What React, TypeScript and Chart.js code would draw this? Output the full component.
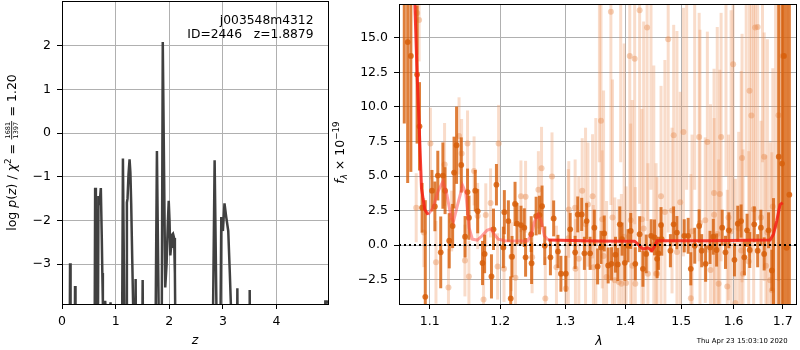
import React, { useEffect, useRef } from 'react';
import { Chart, registerables } from 'chart.js';

Chart.register(...registerables);

// ---------------- Left panel: log p(z) ----------------
const zGrid = [
  0.0, 0.14, 0.15, 0.16, 0.235, 0.243, 0.252,
  0.605, 0.618, 0.632, 0.665, 0.68, 0.7, 0.724, 0.742, 0.752, 0.762, 0.78, 0.805, 0.83, 0.885, 0.905, 0.925,
  1.115, 1.136, 1.175, 1.195, 1.21, 1.222, 1.24, 1.26, 1.275, 1.29, 1.31, 1.335, 1.36, 1.373, 1.386,
  1.49, 1.504, 1.518,
  1.735, 1.77, 1.82, 1.855, 1.879, 1.925, 1.95, 1.975, 1.99, 2.005, 2.02, 2.035, 2.05, 2.07, 2.09, 2.105, 2.125,
  2.8, 2.846, 2.9, 2.945, 2.97, 3.0, 3.03, 3.06, 3.1, 3.13, 3.165, 3.18,
  3.258, 3.27, 3.282, 3.488, 3.5, 3.512,
  4.89, 4.91, 4.94, 4.96,
];
const logPz = [
  -6, -6, -2.98, -6, -6, -3.5, -6,
  -6, -1.25, -6, -6, -1.44, -1.65, -1.26, -2.4, -3.2, -3.9, -4.4, -3.84, -4.4, -4.4, -3.87, -4.6,
  -6, -0.58, -6, -6, -1.59, -1.5, -0.95, -0.6, -0.9, -1.6, -2.9, -4.5, -6, -3.34, -6,
  -6, -3.36, -6,
  -6, -0.41, -6, -6, 2.08, -3.53, -3.0, -2.0, -1.55, -2.0, -2.8, -2.6, -2.33, -2.3, -2.4, -3.2, -6,
  -6, -0.62, -6, -6, -1.92, -2.24, -1.61, -1.9, -2.24, -3.23, -4.5, -6,
  -6, -3.55, -6, -6, -3.59, -6,
  -6, -3.85, -3.85, -3.9,
];
const zRange = [0, 4.96];
const logPRange = [-3.91, 3.02];
const zTicks = [0, 1, 2, 3, 4];
const logPTicks = [-3, -2, -1, 0, 1, 2];

// ---------------- Right panel: spectrum ----------------
const lamModel = [
  1.07, 1.08, 1.083, 1.0858, 1.0889, 1.0933, 1.0977, 1.1045, 1.1113, 1.118, 1.1235, 1.1295, 1.1326,
  1.1385, 1.1455, 1.15, 1.1547, 1.1594, 1.1663, 1.1734, 1.1805, 1.1862, 1.191, 1.197, 1.207, 1.241,
  1.247, 1.252, 1.257, 1.262, 1.267, 1.273, 1.35, 1.416, 1.422, 1.4307, 1.4395, 1.4465, 1.4513, 1.4559,
  1.55, 1.6737, 1.6806, 1.6874, 1.6942, 1.6998,
];
const fModel = [
  25, 17.5, 12.36, 8.6, 4.1, 2.58, 2.2, 2.7, 3.9, 4.6, 3.65, 1.98, 1.7,
  2.93, 4.3, 3.77, 1.26, 0.43, 0.36, 0.67, 1.07, 1.17, 0.79, 0.43, 0.31, 0.3,
  0.79, 1.74, 2.22, 1.74, 0.67, 0.36, 0.3, 0.28, 0.07, -0.29, -0.2, -0.4, -0.1, 0.31,
  0.32, 0.36, 0.79, 1.74, 2.93, 3.07,
];

const lamDark = [
  1.066, 1.0705, 1.0747, 1.083, 1.0862, 1.0897, 1.094, 1.103, 1.107, 1.111, 1.115, 1.118, 1.121,
  1.1268, 1.1315, 1.1335, 1.137, 1.1436, 1.149, 1.1525, 1.1545, 1.1635, 1.167, 1.174, 1.177, 1.187,
  1.19, 1.1943, 1.2045, 1.206, 1.212, 1.2155, 1.2175, 1.222, 1.225, 1.231, 1.236, 1.238, 1.2466,
  1.2472, 1.2542, 1.2594, 1.2634, 1.2676, 1.2765, 1.2816, 1.2884, 1.2931, 1.301, 1.308, 1.316,
  1.3202, 1.3267, 1.3311, 1.3348, 1.3405, 1.3475, 1.353, 1.3586, 1.3641, 1.3707, 1.3763, 1.3831,
  1.387, 1.3905, 1.3944, 1.3991, 1.4047, 1.4093, 1.4173, 1.4249, 1.4307, 1.4365, 1.4453, 1.4513,
  1.456, 1.4584, 1.463, 1.4643, 1.48, 1.4859, 1.4919, 1.5055, 1.5128, 1.5177, 1.5251, 1.5334,
  1.5382, 1.5457, 1.5541, 1.5604, 1.5668, 1.5776, 1.584, 1.5906, 1.6016, 1.6082, 1.6148, 1.6213,
  1.6267, 1.6321, 1.6412, 1.6481, 1.6547, 1.6614, 1.6704, 1.6772, 1.6806, 1.6915, 1.6984, 1.7025,
  1.7081, 1.7138,
];
const fDark = [
  20.0, 14.7, 13.7, 12.35, 8.6, 2.7, -3.75, 3.94, 2.8, 5.03, -0.53, 5.03, 3.94,
  0.31, 1.38, 5.25, 7.23, 5.8, 0.6, 3.84, 1.98, 3.94, 2.45, -1.3, -0.64, -2.27,
  1.14, 4.37, -0.17, 2.38, 1.74, -3.87, -0.84, 2.98, 1.55, 1.45, 1.26, -0.89, 0.79,
  -1.32, 2.1, 2.17, 2.81, -0.05, -0.89, 1.93, -0.46, -2.08, -2.08, 1.14, -0.53,
  2.22, 2.22, -0.6, 1.74, -0.6, 1.26, -1.55, -0.17, 0.84, -1.48, -1.36, -0.7,
  -1.4, 1.5, 0.43, -1.29, -0.05, 1.02, -1.36, 0.79, -1.72, -0.64, 0.67, 0.55,
  -1.0, -0.6, 1.45, 0.43, -0.41, 1.5, 0.9, 0.67, 0.67, -1.72, -0.05, 1.38,
  -0.41, -1.36, -0.17, 0.6, -0.36, 1.26, -0.53, 1.07, -1.07, 1.55, 1.74, -0.89,
  1.07, -0.36, 1.5, -0.41, 1.26, -0.64, 1.07, -1.84, -4.6, 6.4, 5.9, 13.7,
  -0.2, 3.65,
];
const eDark = [
  11.2, 10.2, 8.4, 5.0, 3.2, 1.8, 7.0, 1.5, 1.8, 1.8, 2.6, 2.4, 1.7,
  2.0, 1.6, 2.6, 2.8, 2.0, 1.5, 1.7, 1.6, 1.5, 1.6, 1.6, 1.4, 1.6,
  1.5, 1.5, 1.5, 1.6, 1.5, 1.6, 1.5, 1.6, 1.5, 1.4, 1.4, 1.4, 1.3,
  1.5, 1.4, 1.4, 1.5, 1.4, 1.3, 1.3, 1.2, 1.3, 1.3, 1.2, 1.2,
  1.3, 1.2, 1.2, 1.3, 1.2, 1.3, 1.3, 1.2, 1.3, 1.3, 1.2, 1.3,
  1.2, 1.3, 1.2, 1.3, 1.2, 1.3, 1.2, 1.3, 1.3, 1.4, 1.2, 1.3,
  1.4, 1.2, 1.3, 1.2, 1.2, 1.3, 1.2, 1.2, 1.3, 1.2, 1.3, 1.2,
  1.2, 1.3, 1.2, 1.3, 1.2, 1.3, 1.2, 1.3, 1.2, 1.3, 1.2, 1.3,
  1.2, 1.3, 1.3, 1.2, 1.3, 1.2, 1.3, 1.5, 8.0, 12, 14, 18,
  18, 20,
];

const lamLight = [
  1.083, 1.0857, 1.0818, 1.092, 1.1009, 1.1085, 1.1203, 1.1257, 1.1302, 1.1405, 1.1441, 1.1488,
  1.1525, 1.1544, 1.1618, 1.167, 1.1755, 1.1787, 1.1857, 1.196, 1.1975, 1.2055, 1.2165, 1.2226,
  1.2309, 1.238, 1.248, 1.2577, 1.2626, 1.2685, 1.279, 1.286, 1.301, 1.3058, 1.316, 1.3165, 1.3275,
  1.337, 1.3446, 1.346, 1.3586, 1.3607, 1.368, 1.3753, 1.382, 1.3887, 1.3932, 1.4013, 1.4077,
  1.4093, 1.4162, 1.4173, 1.4249, 1.4289, 1.4381, 1.4395, 1.4541, 1.4559, 1.463, 1.476, 1.486,
  1.498, 1.504, 1.5178, 1.5334, 1.549, 1.5618, 1.5707, 1.573, 1.5755, 1.599, 1.6035, 1.6167,
  1.6186, 1.6316, 1.6354, 1.6431, 1.6481, 1.6614, 1.6737, 1.6772, 1.6792, 1.6909, 1.6998,
  1.356, 1.392, 1.445, 1.51, 1.525, 1.585, 1.625, 1.658,
  1.483, 1.52, 1.545, 1.562, 1.5875, 1.59, 1.61, 1.63, 1.655, 1.665,
  1.305, 1.322, 1.333, 1.35, 1.363, 1.378, 1.398, 1.412, 1.432, 1.45,
  1.47, 1.492, 1.535, 1.555, 1.568, 1.595, 1.615, 1.64, 1.668, 1.685,
];
const fLight = [
  16.8, 16.3, 2.7, 0.9, 7.35, -1.25, 5.84, -3.08, 1.74, 7.9, 6.63, -1.12,
  7.35, -2.27, 5.37, 2.1, -3.94, 2.17, 3.05, -1.55, 7.35, -1.72, -0.84, -2.36,
  3.53, 3.5, -0.89, 4.0, 5.56, -3.87, 4.96, -1.6, -3.15, 2.58, 2.7, -1.72, 3.94,
  2.93, 3.53, -1.6, 9.0, 1.86, -2.31, 16.9, -2.55, -2.68, -2.8, -2.75, 13.7,
  1.8, 13.5, -2.8, 17.0, 1.86, 15.75, -2.07, -2.07, -2.08, 3.53, 14.9, 7.95,
  3.1, 8.18, -3.86, 7.82, 7.46, 3.77, -2.8, 3.7, 7.82, 13.1, -4.2, 6.3,
  -2.07, 11.17, 9.38, 15.75, 15.8, 6.4, -2.55, -3.27, 2.8, 9.4, 13.7,
  22, 24, 20, 21, 19, 22, 20, 24,
  2.5, 1.0, 1.8, 2.2, -3.0, 2.0, 1.2, -1.2, 2.0, -1.5,
  0.5, -1.0, 1.5, 0.2, -0.8, 2.0, 0.6, -1.5, 1.2, 0.0,
  2.4, -0.5, 1.6, -1.8, 0.8, 1.0, -0.4, 2.6, 0.9, 1.4,
];
const eLight = [
  3.0, 3.0, 2.5, 2.5, 2.6, 3.0, 3.0, 2.8, 2.2, 2.8, 2.5, 2.6,
  2.4, 2.6, 2.5, 2.4, 2.6, 2.3, 2.5, 2.4, 2.8, 2.4, 2.5, 2.5,
  2.6, 2.6, 2.6, 2.8, 3.0, 3.0, 3.2, 3.0, 3.5, 3.5, 3.5, 3.6, 3.8,
  4.5, 4.5, 4.5, 9.0, 5.0, 5.5, 14, 6, 6, 6.5, 7, 12,
  7, 12, 7, 14, 8, 14, 8, 8, 7, 8, 14, 8,
  8, 9, 9, 9, 8, 9, 9, 9, 9, 12, 9, 9,
  9, 12, 10, 14, 14, 9, 10, 10, 10, 12, 14,
  16, 18, 16, 17, 15, 17, 15, 18,
  6, 7, 6, 7, 7, 6, 7, 8, 7, 8,
  5, 6, 7, 9, 12, 10, 14, 12, 15, 13,
  11, 16, 14, 12, 15, 16, 13, 15, 14, 16,
];

const lamRange = [1.0591, 1.7279];
const fluxRange = [-4.27, 17.46];
const lamTicks = [1.1, 1.2, 1.3, 1.4, 1.5, 1.6, 1.7];
const fluxTicks = [-2.5, 0, 2.5, 5, 7.5, 10, 12.5, 15];
const zeroLevel = 0;

const objName = 'j003548m4312';
const objInfo = 'ID=2446   z=1.8879';
const stamp = 'Thu Apr 23 15:03:10 2020';

// ---------------- helpers ----------------
const FONT = "'DejaVu Sans', 'Liberation Sans', sans-serif";
const TICK = 12.5;
const MINUS = '\u2212';
const fmt = (v: number, d: number) => (v < 0 ? MINUS : '') + Math.abs(v).toFixed(d);

type Run = any;

function drawRuns(ctx: CanvasRenderingContext2D, runs: Run[], x: number, y: number, rotate: boolean) {
  ctx.save();
  ctx.translate(x, y);
  if (rotate) ctx.rotate(-Math.PI / 2);
  ctx.textBaseline = 'alphabetic';
  ctx.textAlign = 'left';
  ctx.fillStyle = '#000';
  const widths = runs.map((r: Run) => {
    if (r.num) {
      ctx.font = `${r.size}px ${FONT}`;
      return Math.max(ctx.measureText(r.num).width, ctx.measureText(r.den).width) + 3;
    }
    ctx.font = `${r.italic ? 'italic ' : ''}${r.size}px ${FONT}`;
    return ctx.measureText(r.t).width;
  });
  const total = widths.reduce((a: number, b: number) => a + b, 0);
  let cx = -total / 2;
  runs.forEach((r: Run, i: number) => {
    const w = widths[i];
    if (r.num) {
      ctx.font = `${r.size}px ${FONT}`;
      ctx.textAlign = 'center';
      const axis = 4.3;
      ctx.fillText(r.num, cx + w / 2, -axis - 1.6);
      ctx.fillText(r.den, cx + w / 2, -axis + 1.6 + r.size * 0.73);
      ctx.fillRect(cx + 0.5, -axis - 0.4, w - 1, 0.8);
      ctx.textAlign = 'left';
    } else {
      ctx.font = `${r.italic ? 'italic ' : ''}${r.size}px ${FONT}`;
      ctx.fillText(r.t, cx, -(r.dy || 0));
    }
    cx += w;
  });
  ctx.restore();
}

const framePlugin = {
  id: 'frame',
  afterDraw(chart: any) {
    const { ctx, chartArea: a } = chart;
    ctx.save();
    ctx.strokeStyle = '#000';
    ctx.lineWidth = 1;
    ctx.strokeRect(a.left + 0.5, a.top + 0.5, a.right - a.left, a.bottom - a.top);
    ctx.restore();
  },
};

const errorBarPlugin = {
  id: 'errorBars',
  beforeDatasetDraw(chart: any, args: any) {
    const ds = chart.data.datasets[args.index];
    if (!ds.errors) return;
    const { ctx, chartArea: a } = chart;
    const ys = chart.scales.y;
    ctx.save();
    ctx.beginPath();
    ctx.rect(a.left, a.top, a.right - a.left, a.bottom - a.top);
    ctx.clip();
    ctx.strokeStyle = ds.errorColor;
    ctx.lineWidth = ds.errorWidth;
    args.meta.data.forEach((pt: any, i: number) => {
      const d = ds.data[i];
      const e = ds.errors[i];
      ctx.beginPath();
      ctx.moveTo(pt.x, ys.getPixelForValue(d.y - e));
      ctx.lineTo(pt.x, ys.getPixelForValue(d.y + e));
      ctx.stroke();
    });
    ctx.restore();
  },
};

const tickFont = { family: FONT, size: TICK };
const gridOpts = { color: '#b0b0b0', lineWidth: 1, tickColor: '#000', tickLength: 5, drawTicks: true };

const fitX = (s: any) => { s.height = 46; s.paddingLeft = 0; s.paddingRight = 0; s.paddingTop = 0; s.paddingBottom = 0; };
const fitY = (w: number) => (s: any) => { s.width = w; s.paddingTop = 0; s.paddingBottom = 0; s.paddingLeft = 0; s.paddingRight = 0; };

function LeftPanel() {
  const ref = useRef<HTMLCanvasElement>(null);
  useEffect(() => {
    const textPlugin = {
      id: 'leftText',
      afterDraw(chart: any) {
        const ctx = chart.ctx;
        ctx.save();
        ctx.fillStyle = '#000';
        ctx.font = `12.3px ${FONT}`;
        ctx.textAlign = 'right';
        ctx.textBaseline = 'alphabetic';
        ctx.fillText(objName, 313.5, 24);
        ctx.fillText(objInfo, 313.5, 38.3);
        ctx.restore();
        drawRuns(ctx, [
          { t: 'log ', size: 12.5 },
          { t: 'p', size: 12.5, italic: true },
          { t: '(', size: 12.5 },
          { t: 'z', size: 12.5, italic: true },
          { t: ') / ', size: 12.5 },
          { t: 'χ', size: 12.5, italic: true },
          { t: '2', size: 8.75, dy: 5 },
          { t: ' = ', size: 12.5 },
          { num: '1681', den: '1397', size: 6.5 },
          { t: ' = 1.20', size: 12.5 },
        ], 16, 152.5, true);
        drawRuns(ctx, [{ t: 'z', size: 12.5, italic: true }], 195, 343.5, false);
      },
    };
    const chart = new Chart(ref.current as HTMLCanvasElement, {
      type: 'scatter',
      data: {
        datasets: [
          {
            data: zGrid.map((z, i) => ({ x: z, y: logPz[i] })),
            showLine: true,
            borderColor: '#404040',
            borderWidth: 2.5,
            pointRadius: 0,
            tension: 0,
            clip: 0,
          } as any,
        ],
      },
      options: {
        animation: false,
        responsive: false,
        devicePixelRatio: 1,
        events: [],
        layout: { padding: { left: 0, top: 1, right: 12, bottom: 0 } },
        plugins: { legend: { display: false }, tooltip: { enabled: false } },
        scales: {
          x: {
            type: 'linear',
            min: zRange[0],
            max: zRange[1],
            bounds: 'data',
            afterBuildTicks: (s: any) => { s.ticks = zTicks.map((v) => ({ value: v })); },
            afterFit: fitX,
            ticks: { font: tickFont, color: '#000', padding: 5, maxRotation: 0, autoSkip: false, callback: (v: any) => fmt(Number(v), 0) },
            grid: gridOpts,
            border: { display: false },
          },
          y: {
            type: 'linear',
            min: logPRange[0],
            max: logPRange[1],
            bounds: 'data',
            afterBuildTicks: (s: any) => { s.ticks = logPTicks.map((v) => ({ value: v })); },
            afterFit: fitY(62),
            ticks: { font: tickFont, color: '#000', padding: 6, autoSkip: false, callback: (v: any) => fmt(Number(v), 0) },
            grid: gridOpts,
            border: { display: false },
          },
        } as any,
      },
      plugins: [framePlugin, textPlugin],
    });
    return () => chart.destroy();
  }, []);
  return (
    <canvas ref={ref} width={340} height={350}
      style={{ position: 'absolute', left: 0, top: 0, width: 340, height: 350 }} />
  );
}

function RightPanel() {
  const ref = useRef<HTMLCanvasElement>(null);
  useEffect(() => {
    const textPlugin = {
      id: 'rightText',
      afterDraw(chart: any) {
        const ctx = chart.ctx;
        drawRuns(ctx, [
          { t: 'f', size: 12.5, italic: true },
          { t: 'λ', size: 8.75, italic: true, dy: -3 },
          { t: ' × 10', size: 12.5 },
          { t: MINUS + '19', size: 8.75, dy: 5 },
        ], 14, 152.5, true);
        drawRuns(ctx, [{ t: 'λ', size: 12.5, italic: true }], 269, 344.5, false);
        ctx.save();
        ctx.fillStyle = '#000';
        ctx.font = `6.9px ${FONT}`;
        ctx.textAlign = 'left';
        ctx.textBaseline = 'alphabetic';
        ctx.fillText(stamp, 366.7, 342.7);
        ctx.restore();
      },
    };
    const pink = 'rgba(255,70,70,0.5)';
    const red = 'rgba(245,30,20,0.85)';
    const chart = new Chart(ref.current as HTMLCanvasElement, {
      type: 'scatter',
      data: {
        datasets: [
          {
            data: lamLight.map((x, i) => ({ x, y: fLight[i] })),
            errors: eLight,
            errorColor: 'rgba(238,150,95,0.33)',
            errorWidth: 3,
            pointRadius: 3,
            pointBackgroundColor: 'rgba(232,140,80,0.42)',
            pointBorderWidth: 0,
            showLine: false,
            clip: 0,
            order: 4,
          } as any,
          {
            data: lamDark.map((x, i) => ({ x, y: fDark[i] })),
            errors: eDark,
            errorColor: 'rgba(215,95,10,0.8)',
            errorWidth: 3,
            pointRadius: 2.9,
            pointBackgroundColor: 'rgba(215,95,10,0.85)',
            pointBorderWidth: 0,
            showLine: false,
            clip: 0,
            order: 3,
          } as any,
          {
            type: 'line',
            data: lamModel.map((x, i) => ({ x, y: fModel[i] })),
            borderColor: red,
            borderWidth: 3,
            pointRadius: 0,
            tension: 0,
            clip: 0,
            order: 2,
            segment: {
              borderColor: (c: any) => (c.p0.parsed.x >= 1.097 && c.p1.parsed.x <= 1.274 ? pink : red),
            },
          } as any,
          {
            type: 'line',
            data: [{ x: lamRange[0], y: zeroLevel }, { x: lamRange[1], y: zeroLevel }],
            borderColor: '#000',
            borderWidth: 2,
            borderDash: [2, 3],
            pointRadius: 0,
            clip: 0,
            order: 1,
          } as any,
        ],
      },
      options: {
        animation: false,
        responsive: false,
        devicePixelRatio: 1,
        events: [],
        layout: { padding: { left: 0, top: 1, right: 1, bottom: 0 } },
        plugins: { legend: { display: false }, tooltip: { enabled: false } },
        scales: {
          x: {
            type: 'logarithmic',
            min: lamRange[0],
            max: lamRange[1],
            bounds: 'data',
            afterBuildTicks: (s: any) => { s.ticks = lamTicks.map((v) => ({ value: v })); },
            afterFit: fitX,
            ticks: { font: tickFont, color: '#000', padding: 5, maxRotation: 0, autoSkip: false, callback: (v: any) => Number(v).toFixed(1) },
            grid: gridOpts,
            border: { display: false },
          },
          y: {
            type: 'linear',
            min: fluxRange[0],
            max: fluxRange[1],
            bounds: 'data',
            afterBuildTicks: (s: any) => { s.ticks = fluxTicks.map((v) => ({ value: v })); },
            afterFit: fitY(69),
            ticks: { font: tickFont, color: '#000', padding: 6, autoSkip: false, callback: (v: any) => fmt(Number(v), 1) },
            grid: gridOpts,
            border: { display: false },
          },
        } as any,
      },
      plugins: [errorBarPlugin, framePlugin, textPlugin],
    });
    return () => chart.destroy();
  }, []);
  return (
    <canvas ref={ref} width={470} height={350}
      style={{ position: 'absolute', left: 330, top: 0, width: 470, height: 350 }} />
  );
}

export default function App() {
  return (
    <div style={{ position: 'absolute', left: 0, top: 0, width: 800, height: 350, background: '#fff' }}>
      <LeftPanel />
      <RightPanel />
    </div>
  );
}
